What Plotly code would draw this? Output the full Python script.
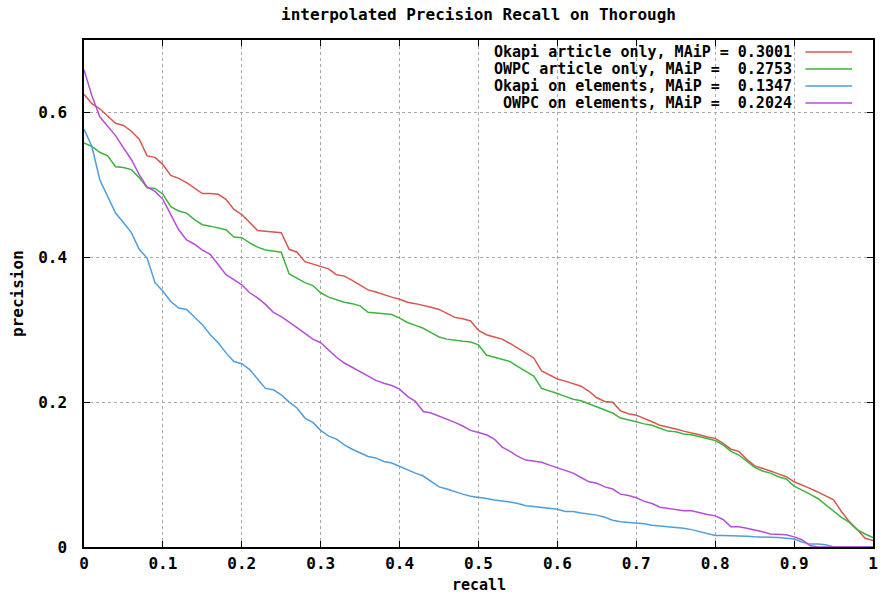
import plotly.graph_objects as go

recall = [
    0.00, 0.01, 0.02, 0.03, 0.04, 0.05, 0.06, 0.07, 0.08, 0.09,
    0.10, 0.11, 0.12, 0.13, 0.14, 0.15, 0.16, 0.17, 0.18, 0.19,
    0.20, 0.21, 0.22, 0.23, 0.24, 0.25, 0.26, 0.27, 0.28, 0.29,
    0.30, 0.31, 0.32, 0.33, 0.34, 0.35, 0.36, 0.37, 0.38, 0.39,
    0.40, 0.41, 0.42, 0.43, 0.44, 0.45, 0.46, 0.47, 0.48, 0.49,
    0.50, 0.51, 0.52, 0.53, 0.54, 0.55, 0.56, 0.57, 0.58, 0.59,
    0.60, 0.61, 0.62, 0.63, 0.64, 0.65, 0.66, 0.67, 0.68, 0.69,
    0.70, 0.71, 0.72, 0.73, 0.74, 0.75, 0.76, 0.77, 0.78, 0.79,
    0.80, 0.81, 0.82, 0.83, 0.84, 0.85, 0.86, 0.87, 0.88, 0.89,
    0.90, 0.91, 0.92, 0.93, 0.94, 0.95, 0.96, 0.97, 0.98, 0.99,
    1.00,
]

okapi_article = [
    0.625, 0.612, 0.605, 0.595, 0.585, 0.582, 0.574, 0.563, 0.540, 0.538,
    0.528, 0.513, 0.509, 0.503, 0.495, 0.488, 0.488, 0.487, 0.480, 0.466,
    0.459, 0.448, 0.437, 0.436, 0.435, 0.434, 0.411, 0.407, 0.394, 0.391,
    0.388, 0.384, 0.376, 0.374, 0.368, 0.361, 0.355, 0.352, 0.348, 0.345,
    0.342, 0.338, 0.336, 0.334, 0.331, 0.328, 0.322, 0.317, 0.315, 0.312,
    0.299, 0.293, 0.290, 0.287, 0.281, 0.274, 0.268, 0.261, 0.243, 0.238,
    0.232, 0.229, 0.225, 0.222, 0.215, 0.206, 0.201, 0.200, 0.188, 0.184,
    0.182, 0.178, 0.173, 0.168, 0.166, 0.163, 0.160, 0.158, 0.155, 0.152,
    0.150, 0.143, 0.135, 0.132, 0.121, 0.112, 0.109, 0.105, 0.101, 0.097,
    0.090, 0.086, 0.081, 0.076, 0.071, 0.065, 0.049, 0.035, 0.024, 0.012,
    0.009,
]

owpc_article = [
    0.558, 0.553, 0.545, 0.540, 0.525, 0.524, 0.521, 0.510, 0.496, 0.495,
    0.487, 0.470, 0.464, 0.461, 0.452, 0.445, 0.443, 0.441, 0.438, 0.428,
    0.427, 0.420, 0.414, 0.410, 0.409, 0.407, 0.377, 0.371, 0.365, 0.361,
    0.351, 0.345, 0.341, 0.338, 0.336, 0.333, 0.324, 0.323, 0.321, 0.321,
    0.316, 0.310, 0.306, 0.302, 0.296, 0.290, 0.287, 0.285, 0.284, 0.283,
    0.279, 0.265, 0.262, 0.260, 0.256, 0.249, 0.242, 0.236, 0.219, 0.216,
    0.212, 0.208, 0.204, 0.202, 0.198, 0.194, 0.190, 0.185, 0.178, 0.176,
    0.173, 0.170, 0.168, 0.164, 0.160, 0.159, 0.156, 0.155, 0.152, 0.149,
    0.147, 0.141, 0.132, 0.127, 0.118, 0.110, 0.105, 0.102, 0.097, 0.094,
    0.084, 0.079, 0.073, 0.067, 0.058, 0.049, 0.041, 0.034, 0.024, 0.018,
    0.013,
]

okapi_elements = [
    0.577, 0.553, 0.507, 0.484, 0.461, 0.448, 0.434, 0.411, 0.399, 0.365,
    0.353, 0.339, 0.330, 0.328, 0.318, 0.307, 0.293, 0.282, 0.268, 0.256,
    0.253, 0.245, 0.232, 0.219, 0.217, 0.210, 0.200, 0.192, 0.178, 0.172,
    0.161, 0.153, 0.149, 0.141, 0.135, 0.130, 0.125, 0.123, 0.118, 0.116,
    0.111, 0.107, 0.102, 0.098, 0.090, 0.083, 0.080, 0.076, 0.073, 0.070,
    0.069, 0.067, 0.065, 0.064, 0.062, 0.060, 0.057, 0.056, 0.055, 0.053,
    0.052, 0.049, 0.049, 0.047, 0.046, 0.044, 0.041, 0.037, 0.035, 0.034,
    0.034, 0.032, 0.030, 0.029, 0.029, 0.027, 0.026, 0.024, 0.021, 0.018,
    0.016, 0.016, 0.016, 0.016, 0.015, 0.014, 0.014, 0.014, 0.013, 0.012,
    0.011, 0.007, 0.004, 0.004, 0.003, 0.000, 0.000, 0.000, 0.000, 0.000,
    0.000,
]

owpc_elements = [
    0.659, 0.623, 0.594, 0.581, 0.568, 0.551, 0.535, 0.514, 0.497, 0.491,
    0.480, 0.459, 0.438, 0.424, 0.418, 0.410, 0.404, 0.390, 0.376, 0.369,
    0.362, 0.351, 0.344, 0.335, 0.324, 0.318, 0.311, 0.303, 0.295, 0.287,
    0.282, 0.272, 0.262, 0.254, 0.248, 0.241, 0.235, 0.230, 0.226, 0.223,
    0.218, 0.208, 0.201, 0.187, 0.185, 0.181, 0.176, 0.172, 0.167, 0.161,
    0.158, 0.155, 0.149, 0.138, 0.132, 0.125, 0.120, 0.118, 0.117, 0.113,
    0.109, 0.105, 0.102, 0.096, 0.090, 0.088, 0.083, 0.080, 0.073, 0.071,
    0.068, 0.063, 0.060, 0.055, 0.053, 0.051, 0.050, 0.050, 0.047, 0.045,
    0.043, 0.038, 0.028, 0.028, 0.026, 0.024, 0.021, 0.018, 0.017, 0.017,
    0.014, 0.010, 0.002, 0.000, 0.000, 0.000, 0.000, 0.000, 0.000, 0.000,
    0.000,
]

series_labels = [
    "Okapi article only, MAiP = 0.3001",
    "OWPC article only, MAiP =  0.2753",
    "Okapi on elements, MAiP =  0.1347",
    "OWPC on elements, MAiP =  0.2024",
]
series_values = [okapi_article, owpc_article, okapi_elements, owpc_elements]
colors = ["#d8564f", "#3db43d", "#4d9fdc", "#b44ed8"]

title_text = "interpolated Precision Recall on Thorough"
x_title = "recall"
y_title = "precision"

FONT = "DejaVu Sans Mono"
fsize = 16
lsize = 15

fig = go.Figure()
for lab, vals, col in zip(series_labels, series_values, colors):
    fig.add_trace(go.Scatter(
        x=recall, y=vals, mode="lines", name=lab,
        line=dict(color=col, width=1.5), showlegend=False,
    ))

W, H = 885, 595
ml, mr, mt, mb = 84, 7, 40, 48
pw, ph = W - ml - mr, H - mt - mb

def px_x(px):
    return (px - ml) / pw

def px_y(py):
    return (H - mb - py) / ph

axis_common = dict(
    showline=True, linecolor="black", linewidth=1.5, mirror="ticks",
    ticks="inside", ticklen=6, tickwidth=1.2, tickcolor="black",
    showgrid=True, gridcolor="#a8a8a8", griddash="dot", gridwidth=1,
    zeroline=False,
    tickfont=dict(family=FONT, size=fsize, color="black", weight="bold"),
)

fig.update_xaxes(range=[0, 1], tick0=0, dtick=0.1, ticklabelstandoff=1, **axis_common)
fig.update_yaxes(range=[0, 0.7], tick0=0, dtick=0.2, ticklabelstandoff=12, **axis_common)

annotations = [
    dict(text=title_text, x=0.5, y=px_y(15), xref="paper", yref="paper",
         showarrow=False, xanchor="center", yanchor="middle",
         font=dict(family=FONT, size=fsize, color="black", weight="bold")),
    dict(text=x_title, x=0.5, y=px_y(585), xref="paper", yref="paper",
         showarrow=False, xanchor="center", yanchor="middle",
         font=dict(family=FONT, size=lsize, color="black", weight="bold")),
    dict(text=y_title, x=px_x(17), y=0.5, xref="paper", yref="paper",
         showarrow=False, xanchor="center", yanchor="middle", textangle=-90,
         font=dict(family=FONT, size=fsize, color="black", weight="bold")),
]

shapes = [
    dict(type="rect", xref="paper", yref="paper",
         x0=px_x(462), x1=px_x(864), y0=px_y(111), y1=px_y(46),
         fillcolor="white", line=dict(width=0), layer="between"),
]

row_y = [52, 69, 86, 103]
for lab, col, ry in zip(series_labels, colors, row_y):
    annotations.append(dict(
        text=lab.replace(" ", "&nbsp;"), x=px_x(799), y=px_y(ry),
        xref="paper", yref="paper", showarrow=False,
        xanchor="right", yanchor="middle",
        font=dict(family=FONT, size=lsize, color="black", weight="bold")))
    shapes.append(dict(type="line", xref="paper", yref="paper",
                       x0=px_x(810), x1=px_x(857), y0=px_y(ry), y1=px_y(ry),
                       line=dict(color=col, width=1.5), layer="above"))

fig.update_layout(
    width=W, height=H,
    margin=dict(l=ml, r=mr, t=mt, b=mb, pad=0),
    paper_bgcolor="white", plot_bgcolor="white",
    annotations=annotations, shapes=shapes,
    showlegend=False,
)

fig.write_html("out.html")
